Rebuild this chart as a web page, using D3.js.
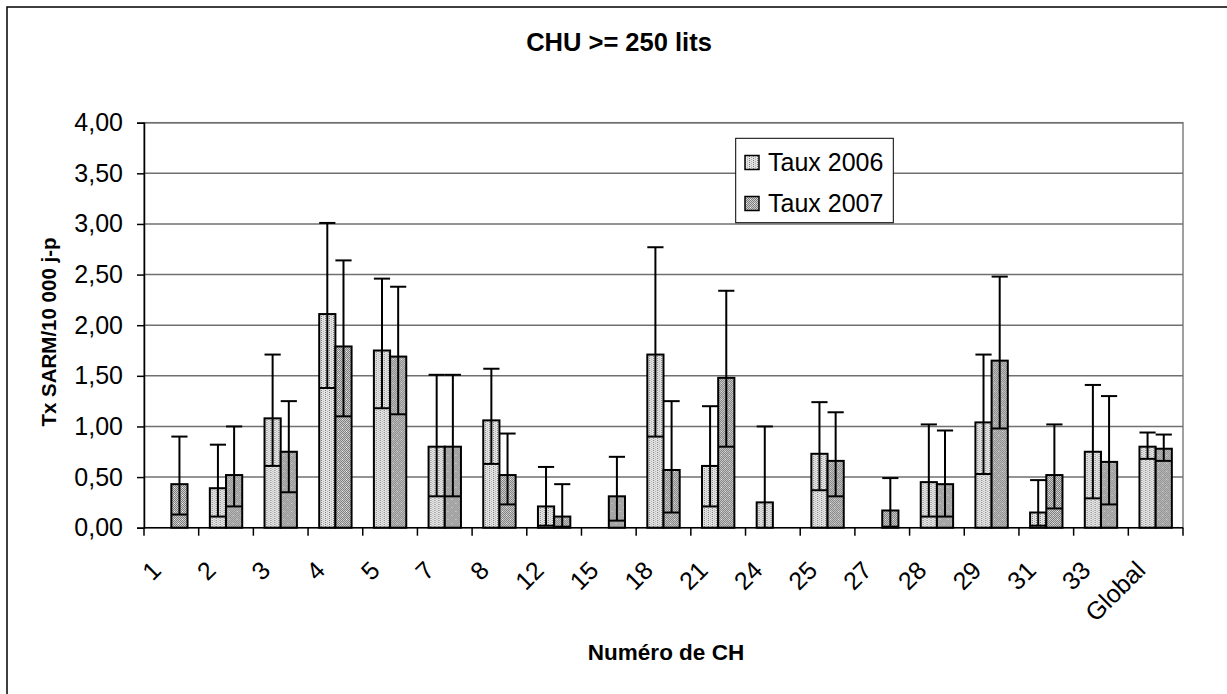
<!DOCTYPE html>
<html>
<head>
<meta charset="utf-8">
<script src="https://cdn.jsdelivr.net/npm/d3@7"></script>
<style>
  html, body { margin: 0; padding: 0; background: #fff; }
  svg { display: block; font-family: "Liberation Sans", Arial, sans-serif; }
</style>
</head>
<body>
<svg id="chart" width="1227" height="694"></svg>
<script>
// CH identifiers along the x axis
const categories = ["1","2","3","4","5","7","8","12","15","18","21","24","25","27","28","29","31","33","Global"];
const seriesNames = ["Taux 2006", "Taux 2007"];

// Rates (per 10 000 patient-days) with lower / upper confidence bounds
const taux2006 = [0, 0.39, 1.08, 2.11, 1.75, 0.80, 1.06, 0.21, 0, 1.71, 0.61, 0.25, 0.73, 0, 0.45, 1.04, 0.15, 0.75, 0.80];
const low2006  = [0, 0.11, 0.61, 1.38, 1.18, 0.31, 0.63, 0.02, 0, 0.90, 0.21, 0,    0.37, 0, 0.11, 0.53, 0.02, 0.29, 0.68];
const high2006 = [0, 0.82, 1.71, 3.01, 2.46, 1.51, 1.57, 0.60, 0, 2.77, 1.20, 1.00, 1.24, 0, 1.02, 1.71, 0.47, 1.41, 0.94];

const taux2007 = [0.43, 0.52, 0.75, 1.79, 1.69, 0.80, 0.52, 0.11, 0.31, 0.57, 1.48, 0, 0.66, 0.17, 0.43, 1.65, 0.52, 0.65, 0.78];
const low2007  = [0.13, 0.21, 0.35, 1.10, 1.12, 0.31, 0.23, 0.01, 0.07, 0.15, 0.80, 0, 0.31, 0.01, 0.11, 0.98, 0.19, 0.23, 0.66];
const high2007 = [0.90, 1.00, 1.25, 2.64, 2.38, 1.51, 0.93, 0.43, 0.70, 1.25, 2.34, 0, 1.14, 0.49, 0.96, 2.48, 1.02, 1.30, 0.92];

const yTicks = [0, 0.5, 1, 1.5, 2, 2.5, 3, 3.5, 4];

const svg = d3.select("#chart");
const plot = { left: 144, right: 1183, top: 122.7, bottom: 527.7 };

// Fill patterns for the two years
const defs = svg.append("defs");
const p6 = defs.append("pattern").attr("id", "pat2006")
  .attr("patternUnits", "userSpaceOnUse").attr("width", 4).attr("height", 4);
p6.append("rect").attr("width", 4).attr("height", 4).attr("fill", "#e4e4e4");
[[1,0],[1,2]].forEach(([x,y]) => p6.append("rect").attr("x", x).attr("y", y).attr("width", 1).attr("height", 1).attr("fill", "#7a7a7a"));
[[3,1],[3,3]].forEach(([x,y]) => p6.append("rect").attr("x", x).attr("y", y).attr("width", 1).attr("height", 1).attr("fill", "#b0b0b0"));

const p7 = defs.append("pattern").attr("id", "pat2007")
  .attr("patternUnits", "userSpaceOnUse").attr("width", 8).attr("height", 8);
for (let i = 0; i < 8; i++) for (let j = 0; j < 8; j++) {
  p7.append("rect").attr("x", i).attr("y", j).attr("width", 1).attr("height", 1)
    .attr("fill", (i + j) % 2 === 0 ? "#7c7c7c" : "#cfcfcf");
}
[[2,3],[6,7]].forEach(([x,y]) => p7.append("rect").attr("x", x).attr("y", y).attr("width", 1).attr("height", 1).attr("fill", "#ffffff"));

// Outer chart frame
svg.append("rect").attr("x", 7).attr("y", 7).attr("width", 1240).attr("height", 720)
  .attr("fill", "#fff").attr("stroke", "#000").attr("stroke-width", 1.5);

// Scales
const x0 = d3.scaleBand().domain(categories).range([plot.left, plot.right]).paddingInner(0).paddingOuter(0);
const step = x0.bandwidth();
const bw = step * 0.296;
const x1 = d3.scaleBand().domain(seriesNames).range([(step - 2 * bw) / 2, (step + 2 * bw) / 2]);
const y = d3.scaleLinear().domain([0, 4]).range([plot.bottom, plot.top]);
const fmt = v => d3.format(".2f")(v).replace(".", ",");

// Plot area border and gridlines
svg.append("rect").attr("x", plot.left).attr("y", plot.top)
  .attr("width", plot.right - plot.left).attr("height", plot.bottom - plot.top)
  .attr("fill", "none").attr("stroke", "#808080").attr("stroke-width", 1.5);
svg.append("g").selectAll("line").data(yTicks.filter(t => t > 0)).join("line")
  .attr("x1", plot.left).attr("x2", plot.right)
  .attr("y1", d => y(d)).attr("y2", d => y(d))
  .attr("stroke", "#707070").attr("stroke-width", 1.5);

// Y axis
const yAxis = svg.append("g").attr("transform", `translate(${plot.left},0)`)
  .call(d3.axisLeft(y).tickValues(yTicks).tickFormat(fmt).tickSize(7).tickPadding(14));
yAxis.select(".domain").attr("stroke", "#000").attr("stroke-width", 1.5);
yAxis.selectAll(".tick line").attr("stroke", "#000").attr("stroke-width", 1.5);
yAxis.selectAll(".tick text").attr("font-size", 25).attr("fill", "#000")
  .attr("font-family", "'Liberation Sans', Arial, sans-serif");

// Bars
const rows = categories.map((c, i) => ({
  cat: c,
  vals: [
    { s: seriesNames[0], v: taux2006[i], lo: low2006[i], hi: high2006[i], fill: "url(#pat2006)" },
    { s: seriesNames[1], v: taux2007[i], lo: low2007[i], hi: high2007[i], fill: "url(#pat2007)" }
  ]
}));

const groups = svg.append("g").selectAll("g").data(rows).join("g")
  .attr("transform", d => `translate(${x0(d.cat)},0)`);

groups.selectAll("rect").data(d => d.vals).join("rect")
  .attr("x", d => x1(d.s)).attr("width", x1.bandwidth())
  .attr("y", d => y(d.v)).attr("height", d => y(0) - y(d.v))
  .attr("fill", d => d.fill).attr("stroke", "#000").attr("stroke-width", 2);

// Error bars: vertical stem from lower to upper bound, bar-wide caps at both ends
const eb = groups.selectAll("g.err").data(d => d.vals.filter(v => v.hi > 0)).join("g").attr("class", "err");
eb.append("line")
  .attr("x1", d => x1(d.s) + x1.bandwidth() / 2).attr("x2", d => x1(d.s) + x1.bandwidth() / 2)
  .attr("y1", d => y(d.lo)).attr("y2", d => y(d.hi))
  .attr("stroke", "#000").attr("stroke-width", 2);
eb.append("line")
  .attr("x1", d => x1(d.s)).attr("x2", d => x1(d.s) + x1.bandwidth())
  .attr("y1", d => y(d.hi)).attr("y2", d => y(d.hi))
  .attr("stroke", "#000").attr("stroke-width", 2);
eb.filter(d => d.lo > 0).append("line")
  .attr("x1", d => x1(d.s)).attr("x2", d => x1(d.s) + x1.bandwidth())
  .attr("y1", d => y(d.lo)).attr("y2", d => y(d.lo))
  .attr("stroke", "#000").attr("stroke-width", 2);

// X axis: ticks at category boundaries
const bounds = categories.map(c => x0(c)).concat([plot.right]);
const xAxis = svg.append("g");
xAxis.append("line").attr("x1", plot.left).attr("x2", plot.right)
  .attr("y1", y(0)).attr("y2", y(0)).attr("stroke", "#000").attr("stroke-width", 1.5);
xAxis.selectAll("line.tk").data(bounds).join("line").attr("class", "tk")
  .attr("x1", d => d).attr("x2", d => d).attr("y1", y(0)).attr("y2", y(0) + 8)
  .attr("stroke", "#000").attr("stroke-width", 1.5);
xAxis.selectAll("text").data(categories).join("text")
  .attr("transform", d => `translate(${x0(d) + step / 2 - 15},${y(0) + 38}) rotate(-45)`)
  .attr("text-anchor", "end").attr("dy", "0.35em")
  .attr("font-size", 25).attr("fill", "#000")
  .text(d => d);

// Titles
svg.append("text").attr("x", 619).attr("y", 51).attr("text-anchor", "middle")
  .attr("font-size", 25.5).attr("font-weight", "bold").text("CHU >= 250 lits");
svg.append("text").attr("x", 666).attr("y", 660).attr("text-anchor", "middle")
  .attr("font-size", 22.5).attr("font-weight", "bold").text("Numéro de CH");
svg.append("text").attr("transform", "translate(49,332) rotate(-90)")
  .attr("text-anchor", "middle").attr("dy", "0.35em")
  .attr("font-size", 20.5).attr("font-weight", "bold").text("Tx SARM/10 000 j-p");

// Legend
const lg = svg.append("g");
lg.append("rect").attr("x", 735.7).attr("y", 138.3).attr("width", 157.6).attr("height", 84.4)
  .attr("fill", "#fff").attr("stroke", "#000").attr("stroke-width", 1);
const legendItems = [
  { s: seriesNames[0], fill: "url(#pat2006)", cy: 162.5 },
  { s: seriesNames[1], fill: "url(#pat2007)", cy: 203.5 }
];
legendItems.forEach(it => {
  lg.append("rect").attr("x", 745).attr("y", it.cy - 7).attr("width", 14).attr("height", 14)
    .attr("fill", it.fill).attr("stroke", "#000").attr("stroke-width", 1.5);
  lg.append("text").attr("x", 768).attr("y", it.cy).attr("dy", "0.35em")
    .attr("font-size", 25).attr("fill", "#000").text(it.s);
});
</script>
</body>
</html>
